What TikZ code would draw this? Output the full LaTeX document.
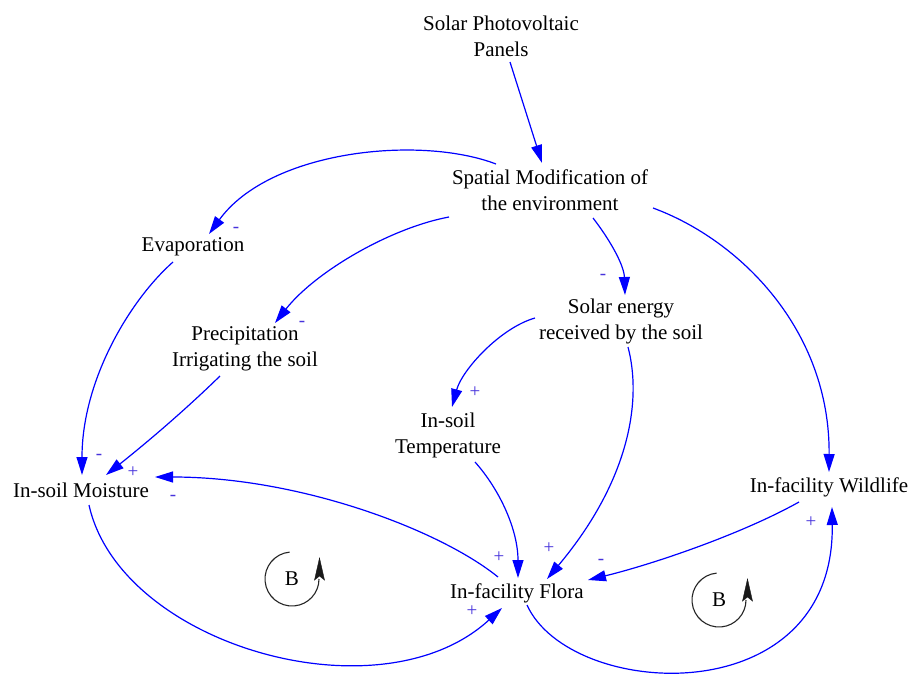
\documentclass[tikz,border=0pt]{standalone}
\usepackage{fontspec}
\setmainfont{Liberation Serif}
\usetikzlibrary{arrows.meta}
\definecolor{lnk}{RGB}{0,0,255}
\definecolor{sgn}{RGB}{70,50,220}
\begin{document}
\begin{tikzpicture}[x=1pt,y=1pt,
  var/.style={font=\fontsize{21}{26}\selectfont, align=center, inner sep=0pt, text=black},
  conn/.style={draw=lnk, line width=1.2pt, -{Triangle[length=18pt,width=11pt]}},
  sign/.style={font=\fontsize{19}{19}\selectfont, text=sgn, inner sep=0pt},
  loopc/.style={draw=black!85, line width=1.1pt},
  looptip/.style={fill=black!90, draw=black!90, line width=0.4pt}]
\fill[white] (0,0) rectangle (910,-677);
\useasboundingbox (0,0) rectangle (910,-677);

% variables
\node[var] (panels) at (501,-36) {Solar Photovoltaic\\Panels};
\node[var] (spatial) at (550,-190) {Spatial Modification of\\the environment};
\node[var] (evap) at (193,-247) {Evaporation};
\node[var] (precip) at (245,-349) {Precipitation\\Irrigating the soil};
\node[var] (solar) at (621,-321) {Solar energy\\received by the soil};
\node[var] (temp) at (448,-435) {In-soil\\Temperature};
\node[var] (moist) at (81,-490) {In-soil Moisture};
\node[var] (wild) at (829,-487) {In-facility Wildlife};
\node[var] (flora) at (517,-593) {In-facility Flora};

% connectors
\draw[conn] ([shift={(9,-26)}]panels.center) -- ([shift={(-8,27)}]spatial.center);
\draw[conn] ([shift={(-54,26)}]spatial.center) .. controls (420,-135) and (270,-150) .. ([shift={(16,13)}]evap.center);
\draw[conn] ([shift={(-101,-27)}]spatial.center) .. controls (390,-228) and (315,-272) .. ([shift={(30,26)}]precip.center);
\draw[conn] ([shift={(43,-28)}]spatial.center) .. controls (610,-240) and (624,-265) .. ([shift={(4,26)}]solar.center);
\draw[conn] ([shift={(103,-18)}]spatial.center) .. controls (740,-240) and (830,-330) .. ([shift={(0,15)}]wild.center);
\draw[conn] ([shift={(-20,-15)}]evap.center) .. controls (130,-300) and (82,-380) .. ([shift={(1,15)}]moist.center);
\draw[conn] ([shift={(-25,-27)}]precip.center) .. controls (180,-415) and (140,-448) .. ([shift={(25,15)}]moist.center);
\draw[conn] ([shift={(-86,3)}]solar.center) .. controls (500,-328) and (462,-370) .. ([shift={(4,28)}]temp.center);
\draw[conn] ([shift={(7,-26)}]solar.center) .. controls (642,-400) and (630,-480) .. ([shift={(30,14)}]flora.center);
\draw[conn] ([shift={(27,-27)}]temp.center) .. controls (500,-490) and (518,-530) .. ([shift={(1,15)}]flora.center);
\draw[conn] ([shift={(-19,16)}]flora.center) .. controls (440,-530) and (300,-477) .. ([shift={(74,13)}]moist.center);
\draw[conn] ([shift={(8,-15)}]moist.center) .. controls (120,-645) and (380,-720) .. ([shift={(-15,-15)}]flora.center);
\draw[conn] ([shift={(10,-12)}]flora.center) .. controls (570,-700) and (835,-715) .. ([shift={(3,-20)}]wild.center);
\draw[conn] ([shift={(-30,-15)}]wild.center) .. controls (740,-535) and (650,-565) .. ([shift={(71,13)}]flora.center);

% polarity signs
\node[sign] (s1) at (236,-230) {-};
\node[sign] (s2) at (302,-324) {-};
\node[sign] (s3) at (603,-277) {-};
\node[sign] (s4) at (99,-457) {-};
\node[sign] (s5) at (133,-472) {+};
\node[sign] (s6) at (173,-498) {-};
\node[sign] (s7) at (475,-392) {+};
\node[sign] (s8) at (499,-557) {+};
\node[sign] (s9) at (549,-548) {+};
\node[sign] (s10) at (601,-562) {-};
\node[sign] (s11) at (472,-611) {+};
\node[sign] (s12) at (811,-522) {+};

% loop markers
\node[var] (loopL) at (292,-579) {B};
\draw[loopc] ([shift={(95:27)}]loopL.center) arc[start angle=95,end angle=360,radius=27];
\fill[looptip] ([shift={(27.5,21)}]loopL.center) .. controls ([shift={(25.5,10)}]loopL.center) .. ([shift={(22.5,-1)}]loopL.center) -- ([shift={(27.5,3)}]loopL.center) -- ([shift={(32.5,-1)}]loopL.center) .. controls ([shift={(29.5,10)}]loopL.center) .. cycle;
\node[var] (loopR) at (719,-600) {B};
\draw[loopc] ([shift={(95:27)}]loopR.center) arc[start angle=95,end angle=360,radius=27];
\fill[looptip] ([shift={(28.5,21)}]loopR.center) .. controls ([shift={(26.5,10)}]loopR.center) .. ([shift={(23.5,-1)}]loopR.center) -- ([shift={(28.5,3)}]loopR.center) -- ([shift={(33.5,-1)}]loopR.center) .. controls ([shift={(30.5,10)}]loopR.center) .. cycle;
\end{tikzpicture}
\end{document}
